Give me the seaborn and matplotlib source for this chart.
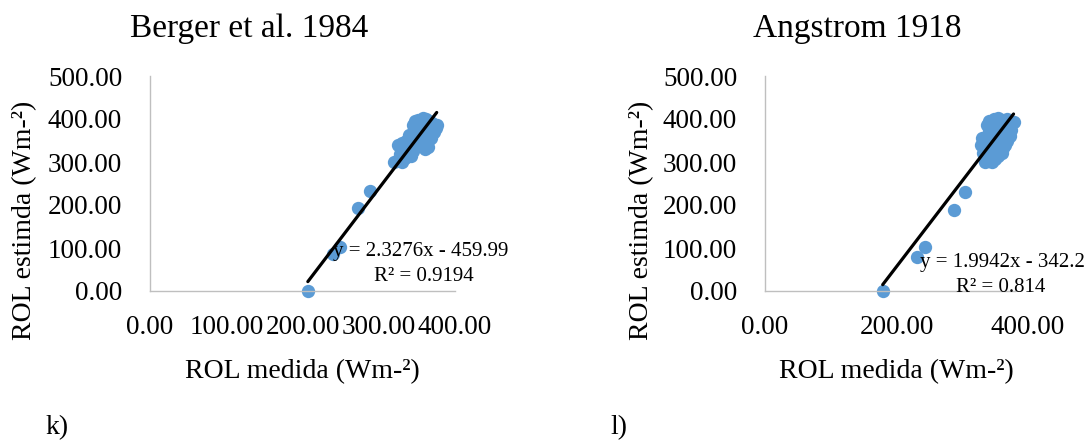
import numpy as np
import pandas as pd
import matplotlib
matplotlib.use('Agg')
import matplotlib.pyplot as plt
import seaborn as sns
from matplotlib.ticker import StrMethodFormatter

# data (W m-2)
berger_x = [207, 240, 249, 273, 289,
            320, 325, 330, 335, 328, 338, 342, 325, 330, 335, 340, 345, 348, 350,
            345, 340, 352, 355, 358, 360, 362, 365, 355, 350, 345, 348, 352, 355,
            360, 358, 362, 365, 368, 370, 372, 375, 370, 366, 362, 358, 368, 373,
            365, 360, 352, 346, 340, 336, 376]
berger_y = [0, 86, 102, 193, 233,
            300, 305, 300, 310, 318, 320, 315, 340, 345, 338, 330, 325, 335, 345,
            355, 350, 360, 350, 340, 330, 345, 335, 370, 375, 385, 395, 398, 390,
            385, 378, 370, 360, 355, 365, 375, 380, 390, 395, 400, 402, 385, 370,
            348, 358, 382, 378, 362, 348, 385]

angstrom_x = [179, 231, 243, 287, 304,
              335, 340, 345, 338, 345, 350, 355, 360, 332, 340, 348, 355, 362, 328,
              335, 342, 350, 358, 365, 330, 338, 345, 352, 360, 368, 372, 340, 348,
              355, 362, 370, 374, 338, 345, 352, 360, 368, 372, 340, 348, 355, 362,
              368, 350, 358, 365, 345, 336, 378]
angstrom_y = [0, 80, 102, 188, 230,
              300, 302, 300, 310, 312, 308, 315, 320, 322, 325, 328, 330, 332, 340,
              345, 340, 345, 342, 340, 355, 360, 358, 355, 352, 350, 360, 372, 370,
              368, 372, 370, 375, 385, 390, 385, 388, 385, 390, 395, 400, 402, 398,
              400, 378, 380, 360, 378, 335, 392]

# trendline parameters as printed on the chart
berger_fit = (2.3276, -459.99, 'y = 2.3276x - 459.99', 'R² = 0.9194')
angstrom_fit = (1.9942, -342.2, 'y = 1.9942x - 342.2', 'R² = 0.814')

titles = ['Berger et al. 1984', 'Angstrom 1918']
panel_tags = ['k)', 'l)']

sns.set_style('white')
plt.rcParams['font.family'] = ['Liberation Serif', 'DejaVu Serif']
for k in ['text.color', 'axes.labelcolor', 'xtick.color', 'ytick.color']:
    plt.rcParams[k] = 'black'

W, H = 1085, 445
fig = plt.figure(figsize=(W / 100, H / 100), dpi=100)

panels = [
    dict(x=berger_x, y=berger_y, fit=berger_fit, rect=(150, 455), xticks=[0, 100, 200, 300, 400],
         spine_end=400, eq_pos=(240, 91), r2_pos=(424, 33), title_x=249, ylab_x=25, tag_x=45),
    dict(x=angstrom_x, y=angstrom_y, fit=angstrom_fit, rect=(765, 1028), xticks=[0, 200, 400],
         spine_end=380, eq_pos=(236, 67), r2_pos=(426, 9), title_x=857, ylab_x=642, tag_x=610),
]

for i, p in enumerate(panels):
    x0, x1 = p['rect']
    ax = fig.add_axes([x0 / W, (H - 291) / H, (x1 - x0) / W, 215 / H])
    df = pd.DataFrame({'medida': p['x'], 'estimada': p['y']})
    sns.scatterplot(data=df, x='medida', y='estimada', ax=ax, color='#5B9BD5',
                    s=92, linewidth=0, zorder=2, clip_on=False)

    slope, inter, eq, r2 = p['fit']
    lx = np.array([df['medida'].min(), df['medida'].max()])
    sns.lineplot(x=lx, y=slope * lx + inter, ax=ax, color='black', linewidth=2.3, zorder=3)

    ax.set_xlim(0, 400)
    ax.set_ylim(0, 500)
    ax.set_xticks(p['xticks'])
    ax.set_yticks([0, 100, 200, 300, 400, 500])
    ax.xaxis.set_major_formatter(StrMethodFormatter('{x:.2f}'))
    ax.yaxis.set_major_formatter(StrMethodFormatter('{x:.2f}'))
    ax.tick_params(axis='y', length=0, pad=20, labelsize=19.5)
    ax.tick_params(axis='x', length=0, pad=17, labelsize=19.5)

    for s in ['top', 'right']:
        ax.spines[s].set_visible(False)
    for s in ['left', 'bottom']:
        ax.spines[s].set_color('#BFBFBF')
        ax.spines[s].set_linewidth(1.0)
    ax.spines['bottom'].set_bounds(0, p['spine_end'])

    ax.set_xlabel('ROL medida (Wm-²)', fontsize=20, labelpad=14)
    ax.set_ylabel('')

    ax.text(p['eq_pos'][0], p['eq_pos'][1], eq, fontsize=15, ha='left', va='center', zorder=4)
    ax.text(p['r2_pos'][0], p['r2_pos'][1], r2, fontsize=15, ha='right', va='center', zorder=4)

    fig.text(p['title_x'] / W, 1 - 29 / H, titles[i], fontsize=24, ha='center', va='center')
    fig.text(p['ylab_x'] / W, 1 - 220 / H, 'ROL estimda (Wm-²)', fontsize=20,
             rotation=90, ha='center', va='center')
    fig.text(p['tag_x'] / W, 1 - 428 / H, panel_tags[i], fontsize=20, ha='left', va='center')

fig.savefig('out.png', dpi=100)
